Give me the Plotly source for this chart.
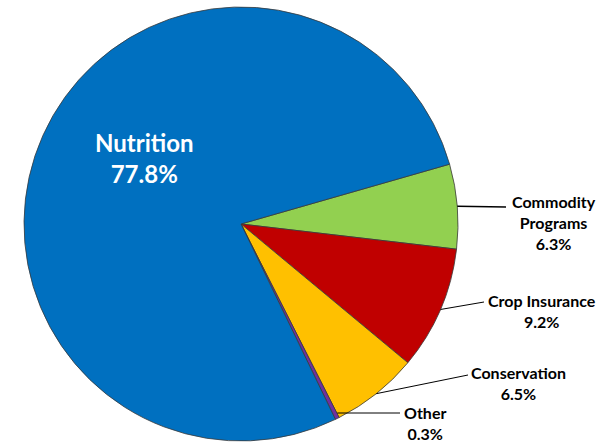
import math
import plotly.graph_objects as go

categories = ["Commodity Programs", "Crop Insurance", "Conservation", "Other", "Nutrition"]
shares = [6.3, 9.2, 6.5, 0.3, 77.8]
label_lines = [["Commodity", "Programs"], ["Crop Insurance"], ["Conservation"], ["Other"], ["Nutrition"]]
colors = ["#92D050", "#C00000", "#FFC000", "#7030A0", "#0070C0"]

W, H = 607, 443
cx, cy, R = 241, 224, 217
ROT = 74  # degrees clockwise from 12 o'clock


def px(x):
    return x / W


def py(y):
    return 1 - y / H


fig = go.Figure(go.Pie(
    labels=categories, values=shares, sort=False, direction="clockwise",
    rotation=ROT, textinfo="none", hoverinfo="label+percent",
    marker=dict(colors=colors, line=dict(color="#3a3a3a", width=0.8)),
    domain=dict(x=[px(cx - R), px(cx + R)], y=[py(cy + R), py(cy - R)]),
    showlegend=False,
))

# label placement (layout positions), keyed by category index
text_pos = {0: (554, 223), 1: (542, 311), 2: (518, 383), 3: (425, 423)}
line_end = {0: (506, 207), 1: (484, 302), 2: (468, 375), 3: (400, 413)}

total = sum(shares)
start = 0.0
shapes = []
annotations = []
for i, (cat, v) in enumerate(zip(categories, shares)):
    mid = ROT + (start + v / 2) / total * 360
    start += v
    ex = cx + R * math.sin(math.radians(mid))
    ey = cy - R * math.cos(math.radians(mid))
    pct = f"{v:.1f}%"
    if i in text_pos:
        tx, ty = text_pos[i]
        x1, y1 = line_end[i]
        if i == 3:
            ey = y1
        shapes.append(dict(type="line", xref="paper", yref="paper",
                           x0=px(ex), y0=py(ey), x1=px(x1), y1=py(y1),
                           line=dict(color="black", width=1.5 if i == 0 else 1)))
        annotations.append(dict(
            x=px(tx), y=py(ty), xref="paper", yref="paper", showarrow=False,
            text="<b>" + "<br>".join(label_lines[i] + [pct]) + "</b>",
            font=dict(family="Lato, Open Sans, sans-serif", size=16, color="black"),
            align="center", xanchor="center", yanchor="middle"))
    else:
        annotations.append(dict(
            x=px(144), y=py(158), xref="paper", yref="paper", showarrow=False,
            text="<b>" + "<br>".join(label_lines[i] + [pct]) + "</b>",
            font=dict(family="Lato, Open Sans, sans-serif", size=24, color="white"),
            align="center", xanchor="center", yanchor="middle"))

fig.update_layout(
    width=W, height=H, margin=dict(l=0, r=0, t=0, b=0),
    paper_bgcolor="white", plot_bgcolor="white",
    shapes=shapes, annotations=annotations,
)

fig.write_html("out.html")
